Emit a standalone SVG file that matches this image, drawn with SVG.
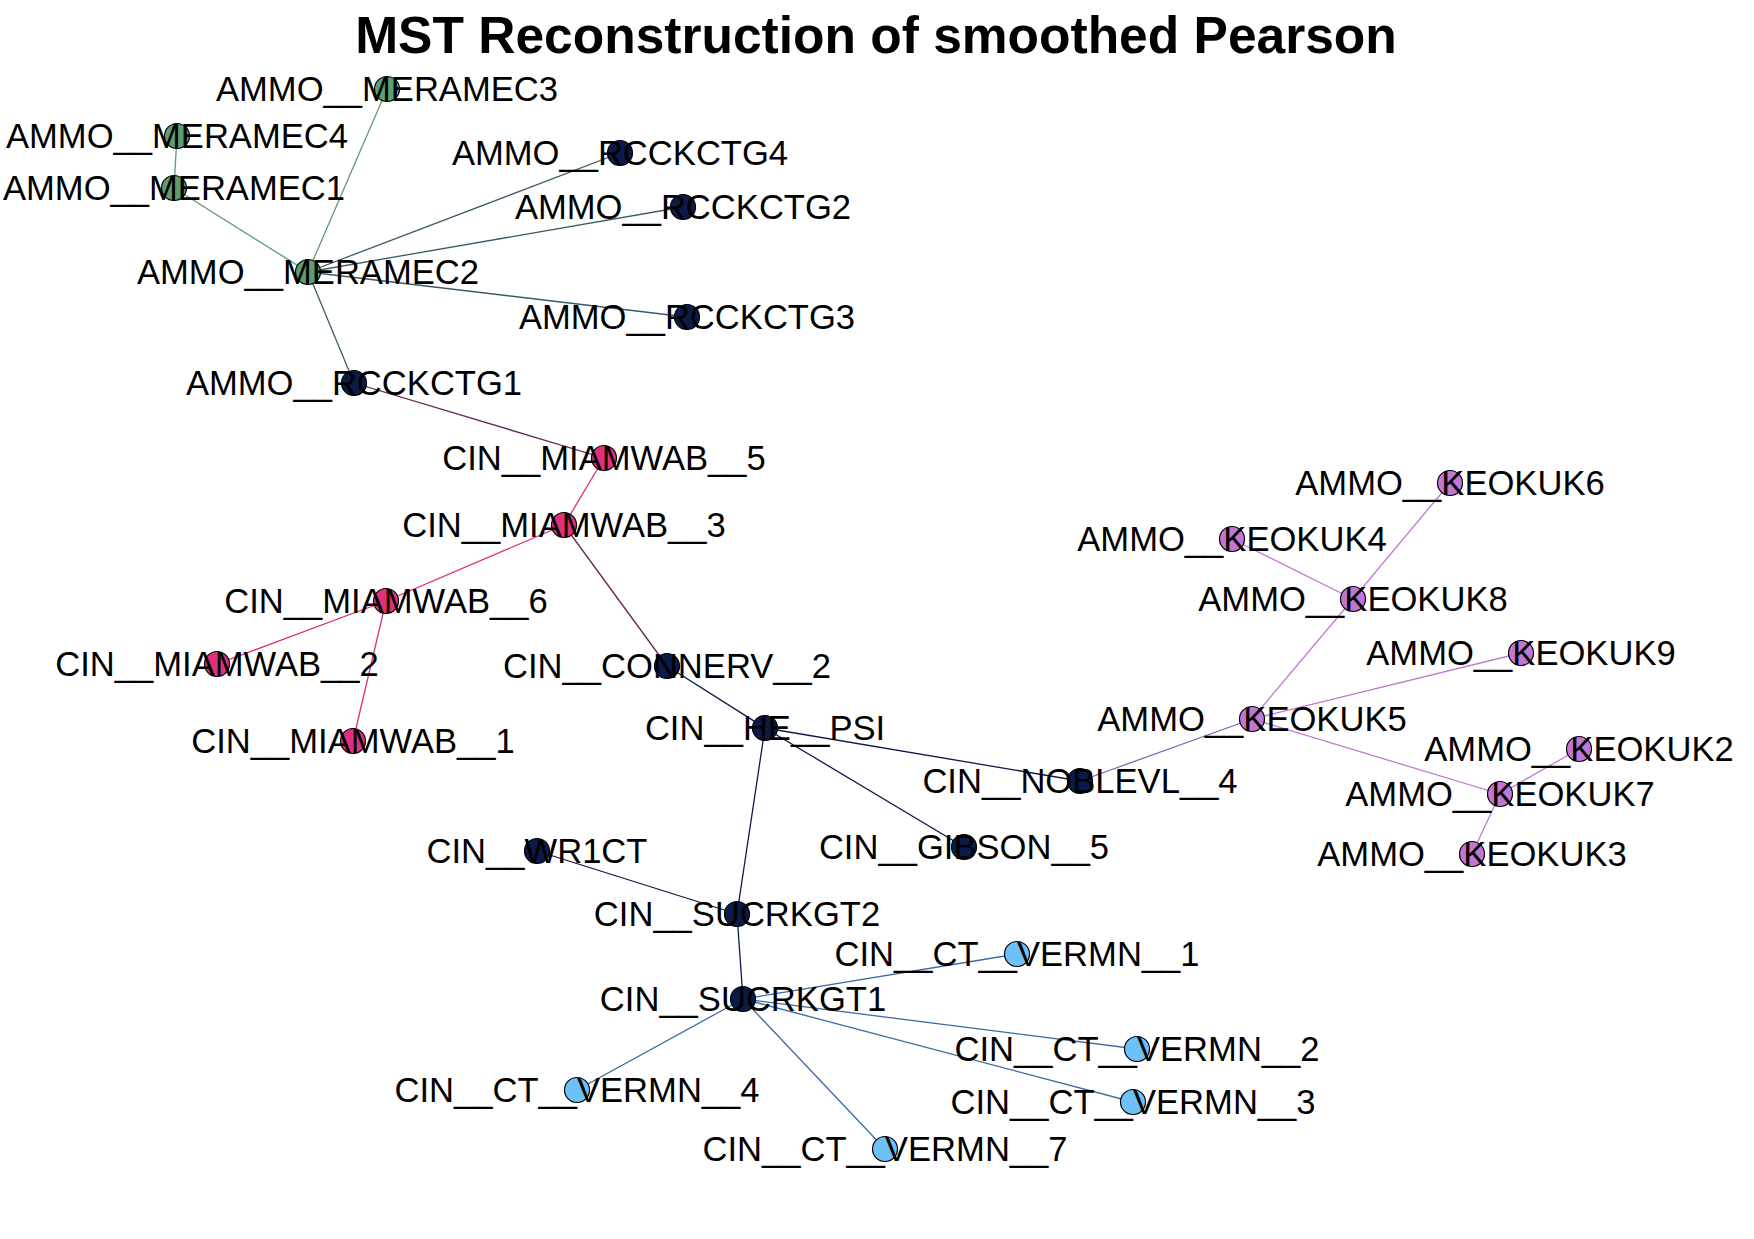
<svg xmlns="http://www.w3.org/2000/svg" width="1754" height="1239" viewBox="0 0 1754 1239">
<style>
.bg{fill:#ffffff}
.title{font-family:"Liberation Sans",Arial,sans-serif;font-weight:bold;font-size:51.5px;fill:#000;text-anchor:middle}
.lbl{font-family:"Liberation Sans",Arial,sans-serif;font-size:34.6px;fill:#000;text-anchor:middle}
circle{stroke:#000;stroke-width:1.2}
.g{fill:#5e9c72}.n{fill:#0b1a48}.p{fill:#e0307a}.o{fill:#c276d4}.b{fill:#6ec0f8}
#edges line{stroke-width:1.3;fill:none}
.eg{stroke:#5e9c72}.en{stroke:#0b1a48}.ep{stroke:#e0307a}.eo{stroke:#c276d4}
.egn{stroke:#3a5a6a}.epn{stroke:#6a2358}.enb{stroke:#3c6aa2}.eno{stroke:#7e6ab4}
</style>
<rect class="bg" x="0" y="0" width="1754" height="1239"/>
<text class="title" x="876" y="53">MST Reconstruction of smoothed Pearson</text>
<g id="edges">
<line class="eg" x1="308" y1="272" x2="387" y2="89"/>
<line class="eg" x1="174" y1="188" x2="177" y2="136"/>
<line class="eg" x1="174" y1="188" x2="308" y2="272"/>
<line class="egn" x1="308" y1="272" x2="620" y2="153"/>
<line class="egn" x1="308" y1="272" x2="683" y2="207"/>
<line class="egn" x1="308" y1="272" x2="687" y2="317"/>
<line class="egn" x1="308" y1="272" x2="354" y2="383"/>
<line class="epn" x1="354" y1="383" x2="604" y2="458"/>
<line class="ep" x1="604" y1="458" x2="564" y2="525"/>
<line class="ep" x1="564" y1="525" x2="386" y2="601"/>
<line class="ep" x1="386" y1="601" x2="217" y2="664"/>
<line class="ep" x1="386" y1="601" x2="353" y2="741"/>
<line class="epn" x1="564" y1="525" x2="667" y2="666"/>
<line class="en" x1="667" y1="666" x2="765" y2="728"/>
<line class="en" x1="765" y1="728" x2="1080" y2="781"/>
<line class="en" x1="765" y1="728" x2="964" y2="847"/>
<line class="en" x1="765" y1="728" x2="737" y2="914"/>
<line class="en" x1="537" y1="851" x2="737" y2="914"/>
<line class="en" x1="737" y1="914" x2="743" y2="999"/>
<line class="enb" x1="743" y1="999" x2="1017" y2="954"/>
<line class="enb" x1="743" y1="999" x2="1137" y2="1049"/>
<line class="enb" x1="743" y1="999" x2="1133" y2="1102"/>
<line class="enb" x1="743" y1="999" x2="577" y2="1090"/>
<line class="enb" x1="743" y1="999" x2="885" y2="1149"/>
<line class="eno" x1="1080" y1="781" x2="1252" y2="719"/>
<line class="eo" x1="1252" y1="719" x2="1353" y2="599"/>
<line class="eo" x1="1353" y1="599" x2="1232" y2="539"/>
<line class="eo" x1="1353" y1="599" x2="1450" y2="483"/>
<line class="eo" x1="1252" y1="719" x2="1521" y2="653"/>
<line class="eo" x1="1252" y1="719" x2="1500" y2="794"/>
<line class="eo" x1="1500" y1="794" x2="1579" y2="749"/>
<line class="eo" x1="1500" y1="794" x2="1472" y2="854"/>
</g>
<g id="nodes">
<g id="n_MERAMEC3"><circle class="g" cx="387" cy="89" r="12.5"/><text class="lbl" x="387" y="101">AMMO__MERAMEC3</text></g>
<g id="n_MERAMEC4"><circle class="g" cx="177" cy="136" r="12.5"/><text class="lbl" x="177" y="148">AMMO__MERAMEC4</text></g>
<g id="n_MERAMEC1"><circle class="g" cx="174" cy="188" r="12.5"/><text class="lbl" x="174" y="200">AMMO__MERAMEC1</text></g>
<g id="n_MERAMEC2"><circle class="g" cx="308" cy="272" r="12.5"/><text class="lbl" x="308" y="284">AMMO__MERAMEC2</text></g>
<g id="n_RCCKCTG4"><circle class="n" cx="620" cy="153" r="12.5"/><text class="lbl" x="620" y="165">AMMO__RCCKCTG4</text></g>
<g id="n_RCCKCTG2"><circle class="n" cx="683" cy="207" r="12.5"/><text class="lbl" x="683" y="219">AMMO__RCCKCTG2</text></g>
<g id="n_RCCKCTG3"><circle class="n" cx="687" cy="317" r="12.5"/><text class="lbl" x="687" y="329">AMMO__RCCKCTG3</text></g>
<g id="n_RCCKCTG1"><circle class="n" cx="354" cy="383" r="12.5"/><text class="lbl" x="354" y="395">AMMO__RCCKCTG1</text></g>
<g id="n_MIAMWAB5"><circle class="p" cx="604" cy="458" r="12.5"/><text class="lbl" x="604" y="470">CIN__MIAMWAB__5</text></g>
<g id="n_MIAMWAB3"><circle class="p" cx="564" cy="525" r="12.5"/><text class="lbl" x="564" y="537">CIN__MIAMWAB__3</text></g>
<g id="n_MIAMWAB6"><circle class="p" cx="386" cy="601" r="12.5"/><text class="lbl" x="386" y="613">CIN__MIAMWAB__6</text></g>
<g id="n_MIAMWAB2"><circle class="p" cx="217" cy="664" r="12.5"/><text class="lbl" x="217" y="676">CIN__MIAMWAB__2</text></g>
<g id="n_MIAMWAB1"><circle class="p" cx="353" cy="741" r="12.5"/><text class="lbl" x="353" y="753">CIN__MIAMWAB__1</text></g>
<g id="n_CONNERV2"><circle class="n" cx="667" cy="666" r="12.5"/><text class="lbl" x="667" y="678">CIN__CONNERV__2</text></g>
<g id="n_HEPSI"><circle class="n" cx="765" cy="728" r="12.5"/><text class="lbl" x="765" y="740">CIN__HE__PSI</text></g>
<g id="n_NOBLEVL4"><circle class="n" cx="1080" cy="781" r="12.5"/><text class="lbl" x="1080" y="793">CIN__NOBLEVL__4</text></g>
<g id="n_GIBSON5"><circle class="n" cx="964" cy="847" r="12.5"/><text class="lbl" x="964" y="859">CIN__GIBSON__5</text></g>
<g id="n_WR1CT"><circle class="n" cx="537" cy="851" r="12.5"/><text class="lbl" x="537" y="863">CIN__WR1CT</text></g>
<g id="n_SUCRKGT2"><circle class="n" cx="737" cy="914" r="12.5"/><text class="lbl" x="737" y="926">CIN__SUCRKGT2</text></g>
<g id="n_SUCRKGT1"><circle class="n" cx="743" cy="999" r="12.5"/><text class="lbl" x="743" y="1011">CIN__SUCRKGT1</text></g>
<g id="n_VERMN1"><circle class="b" cx="1017" cy="954" r="12.5"/><text class="lbl" x="1017" y="966">CIN__CT__VERMN__1</text></g>
<g id="n_VERMN2"><circle class="b" cx="1137" cy="1049" r="12.5"/><text class="lbl" x="1137" y="1061">CIN__CT__VERMN__2</text></g>
<g id="n_VERMN3"><circle class="b" cx="1133" cy="1102" r="12.5"/><text class="lbl" x="1133" y="1114">CIN__CT__VERMN__3</text></g>
<g id="n_VERMN4"><circle class="b" cx="577" cy="1090" r="12.5"/><text class="lbl" x="577" y="1102">CIN__CT__VERMN__4</text></g>
<g id="n_VERMN7"><circle class="b" cx="885" cy="1149" r="12.5"/><text class="lbl" x="885" y="1161">CIN__CT__VERMN__7</text></g>
<g id="n_KEOKUK6"><circle class="o" cx="1450" cy="483" r="12.5"/><text class="lbl" x="1450" y="495">AMMO__KEOKUK6</text></g>
<g id="n_KEOKUK4"><circle class="o" cx="1232" cy="539" r="12.5"/><text class="lbl" x="1232" y="551">AMMO__KEOKUK4</text></g>
<g id="n_KEOKUK8"><circle class="o" cx="1353" cy="599" r="12.5"/><text class="lbl" x="1353" y="611">AMMO__KEOKUK8</text></g>
<g id="n_KEOKUK9"><circle class="o" cx="1521" cy="653" r="12.5"/><text class="lbl" x="1521" y="665">AMMO__KEOKUK9</text></g>
<g id="n_KEOKUK5"><circle class="o" cx="1252" cy="719" r="12.5"/><text class="lbl" x="1252" y="731">AMMO__KEOKUK5</text></g>
<g id="n_KEOKUK2"><circle class="o" cx="1579" cy="749" r="12.5"/><text class="lbl" x="1579" y="761">AMMO__KEOKUK2</text></g>
<g id="n_KEOKUK7"><circle class="o" cx="1500" cy="794" r="12.5"/><text class="lbl" x="1500" y="806">AMMO__KEOKUK7</text></g>
<g id="n_KEOKUK3"><circle class="o" cx="1472" cy="854" r="12.5"/><text class="lbl" x="1472" y="866">AMMO__KEOKUK3</text></g>
</g>
</svg>
